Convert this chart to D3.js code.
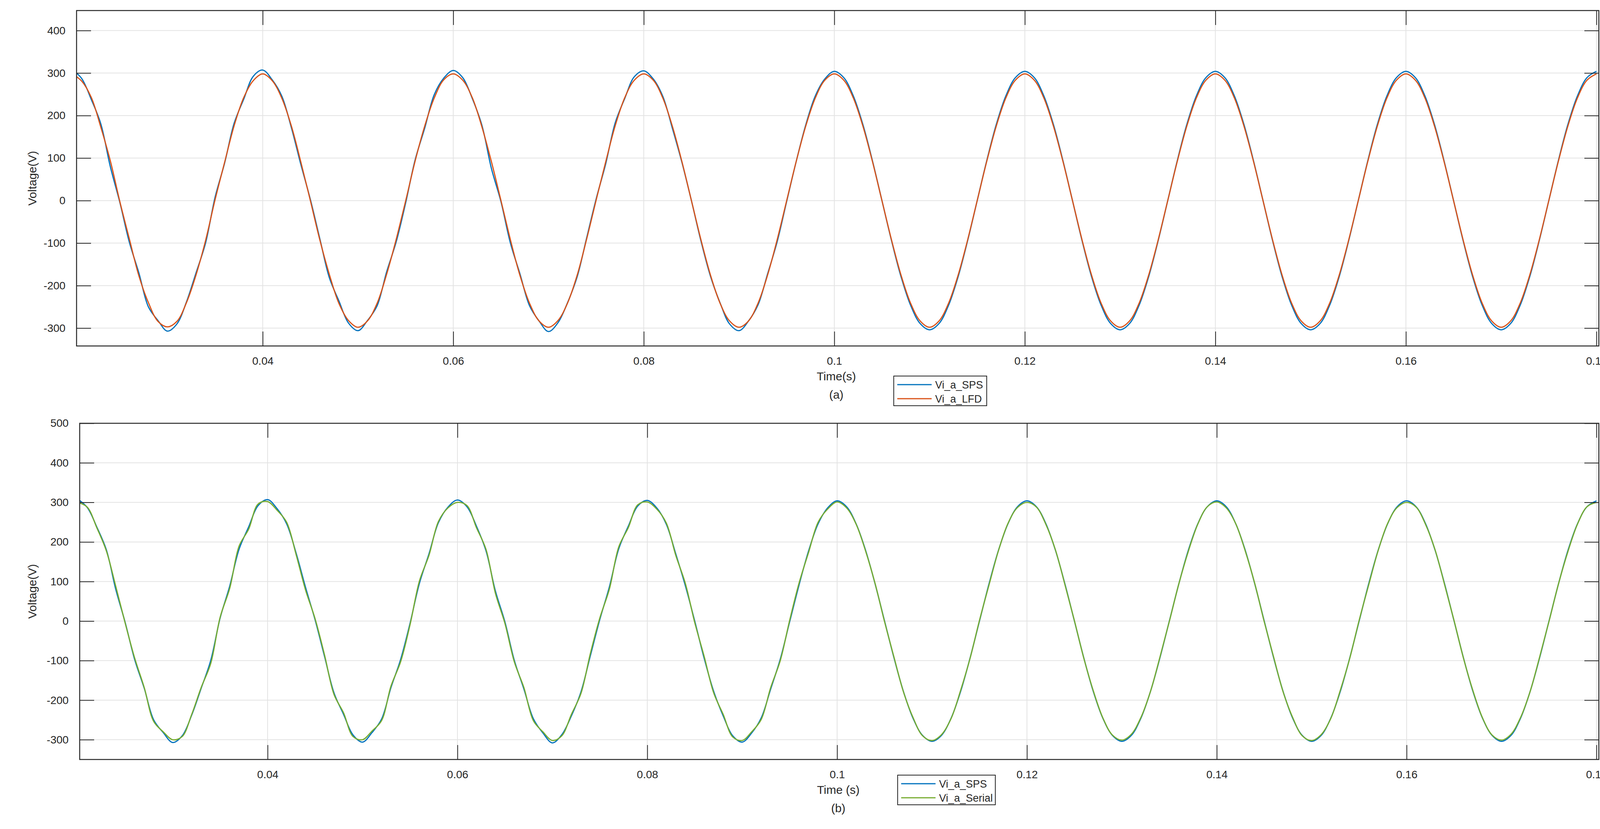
<!DOCTYPE html>
<html>
<head>
<meta charset="utf-8">
<script src="https://cdn.jsdelivr.net/npm/d3@7"></script>
<style>
  html, body { margin: 0; padding: 0; overflow: hidden; background: #fff; }
  svg { display: block; }
  text { font-family: "Liberation Sans", Arial, sans-serif; fill: #262626; }
</style>
</head>
<body>
<svg id="fig" width="4151" height="2123"></svg>
<script>
// sample times: 1 ms steps from 0.020 s to 0.180 s
var times = d3.range(161).map(i => +(0.02 + i * 0.001).toFixed(3));

// Vi_a_SPS (ripple up to 0.1 s, clean afterwards)
var viSPS = [
  308,287,238,181,80,-4,-98,-170,-250,-282,-307,-290,-238,-170,-100,8,88,182,238,292,
  307,284,246,172,85,3,-90,-182,-236,-288,-306,-282,-248,-168,-98,-6,96,170,249,288,
  306,289,240,178,76,-2,-100,-172,-247,-283,-308,-287,-240,-180,-88,4,86,183,240,291,
  305,286,245,170,90,0,-95,-178,-240,-290,-306,-283,-245,-172,-97,-2,92,178,246,286,
  304,289,246,179,94,0,-94,-179,-246,-289,-304,-289,-246,-179,-94,0,94,179,246,289,
  304,289,246,179,94,0,-94,-179,-246,-289,-304,-289,-246,-179,-94,0,94,179,246,289,
  304,289,246,179,94,0,-94,-179,-246,-289,-304,-289,-246,-179,-94,0,94,179,246,289,
  304,289,246,179,94,0,-94,-179,-246,-289,-304,-289,-246,-179,-94,0,94,179,246,289,
  304
];

// Vi_a_LFD
var viLFD = [
  298,281,243,173,94,-2,-90,-177,-240,-284,-297,-284,-240,-175,-94,2,90,176,242,282,
  298,282,241,176,91,0,-93,-174,-242,-282,-298,-283,-242,-174,-92,-1,93,175,241,284,
  298,283,242,174,92,1,-92,-176,-241,-283,-298,-282,-241,-176,-91,1,91,176,242,283,
  298,283,241,175,92,0,-92,-175,-241,-283,-298,-283,-241,-175,-92,0,92,175,241,283,
  298,283,241,175,92,0,-92,-175,-241,-283,-298,-283,-241,-175,-92,0,92,175,241,283,
  298,283,241,175,92,0,-92,-175,-241,-283,-298,-283,-241,-175,-92,0,92,175,241,283,
  298,283,241,175,92,0,-92,-175,-241,-283,-298,-283,-241,-175,-92,0,92,175,241,283,
  298,283,241,175,92,0,-92,-175,-241,-283,-298,-283,-241,-175,-92,0,92,175,241,283,
  298
];

// Vi_a_Serial
var viSerial = [
  300,288,236,178,88,-6,-94,-168,-254,-280,-300,-292,-236,-168,-108,10,82,190,232,296,
  302,280,250,168,78,6,-86,-186,-232,-292,-300,-278,-252,-164,-104,-10,102,166,252,286,
  300,292,236,182,70,-6,-104,-168,-252,-280,-302,-290,-236,-184,-82,8,80,188,236,294,
  301,283,248,166,96,-4,-90,-182,-236,-293,-302,-280,-249,-168,-101,2,97,174,250,283,
  301,286,245,177,95,-2,-92,-180,-244,-290,-302,-287,-247,-176,-95,2,91,178,247,287,
  300,288,244,180,92,1,-95,-177,-245,-288,-301,-286,-244,-179,-92,-1,94,176,245,289,
  301,286,246,177,95,-2,-92,-180,-244,-290,-302,-287,-247,-176,-95,2,91,178,247,287,
  300,288,244,180,92,1,-95,-177,-245,-288,-301,-286,-244,-179,-92,-1,94,176,245,289,
  300
];

var xTicks = [0.04, 0.06, 0.08, 0.1, 0.12, 0.14, 0.16, 0.18];
var yTicksA = [-300, -200, -100, 0, 100, 200, 300, 400];
var yTicksB = [-300, -200, -100, 0, 100, 200, 300, 400, 500];

var svg = d3.select("#fig");
var axisColor = "#262626";

function panel(opt) {
  var x = d3.scaleLinear().domain(opt.xDomain).range([opt.left, opt.right]);
  var y = d3.scaleLinear().domain(opt.yDomain).range([opt.bottom, opt.top]);
  var g = svg.append("g");
  var clipId = "clip" + opt.name;

  g.append("clipPath").attr("id", clipId).append("rect")
    .attr("x", opt.left).attr("y", opt.top)
    .attr("width", opt.right - opt.left).attr("height", opt.bottom - opt.top);

  // grid
  g.selectAll(".gx").data(xTicks).enter().append("line")
    .attr("x1", d => x(d)).attr("x2", d => x(d))
    .attr("y1", opt.top).attr("y2", opt.bottom)
    .attr("stroke", "#e3e3e3").attr("stroke-width", 2);
  g.selectAll(".gy").data(opt.yTicks).enter().append("line")
    .attr("x1", opt.left).attr("x2", opt.right)
    .attr("y1", d => y(d)).attr("y2", d => y(d))
    .attr("stroke", "#e3e3e3").attr("stroke-width", 2);

  // lines
  var line = d3.line().x((d, i) => x(times[i])).y(d => y(d)).curve(d3.curveCatmullRom);
  opt.series.forEach(s => {
    g.append("path").datum(s.values)
      .attr("clip-path", "url(#" + clipId + ")")
      .attr("d", line).attr("fill", "none")
      .attr("stroke", s.color).attr("stroke-width", 3).attr("stroke-linejoin", "round");
  });

  // axes: ticks inside on all four sides
  var tl = 37;
  g.append("g").attr("transform", "translate(0," + opt.bottom + ")")
    .call(d3.axisBottom(x).tickValues(xTicks).tickSizeInner(-tl).tickSizeOuter(0).tickFormat(d3.format("~g")))
    .call(a => a.selectAll("text").attr("dy", "1.6em").style("font-size", "28px").attr("fill", axisColor));
  g.append("g").attr("transform", "translate(0," + opt.top + ")")
    .call(d3.axisTop(x).tickValues(xTicks).tickSizeInner(-tl).tickSizeOuter(0).tickFormat(""));
  g.append("g").attr("transform", "translate(" + opt.left + ",0)")
    .call(d3.axisLeft(y).tickValues(opt.yTicks).tickSizeInner(-tl).tickSizeOuter(0).tickPadding(20)
      .tickFormat(d => String(d)))
    .call(a => a.selectAll("text").attr("dx", "-0.3em").style("font-size", "28px").attr("fill", axisColor));
  g.append("g").attr("transform", "translate(" + opt.right + ",0)")
    .call(d3.axisRight(y).tickValues(opt.yTicks).tickSizeInner(-tl).tickSizeOuter(0).tickFormat(""));
  g.selectAll(".domain").remove();
  g.selectAll(".tick line").attr("stroke", axisColor).attr("stroke-width", 2);

  g.append("rect").attr("x", opt.left).attr("y", opt.top)
    .attr("width", opt.right - opt.left).attr("height", opt.bottom - opt.top)
    .attr("fill", "none").attr("stroke", axisColor).attr("stroke-width", 2.5);

  // labels
  g.append("text").attr("x", opt.xlabelX).attr("y", opt.bottom + 88)
    .attr("text-anchor", "middle").style("font-size", "30px").text(opt.xlabel);
  g.append("text").attr("x", opt.xlabelX).attr("y", opt.bottom + 135)
    .attr("text-anchor", "middle").style("font-size", "30px").text(opt.caption);
  g.append("text")
    .attr("transform", "translate(93," + ((opt.top + opt.bottom) / 2) + ") rotate(-90)")
    .attr("text-anchor", "middle").style("font-size", "30px").text("Voltage(V)");

  // legend
  var lg = g.append("g").attr("transform", "translate(" + opt.legend[0] + "," + opt.legend[1] + ")");
  lg.append("rect").attr("width", opt.legendW).attr("height", 76)
    .attr("fill", "#fff").attr("stroke", axisColor).attr("stroke-width", 2);
  opt.series.forEach((s, i) => {
    var yy = 22 + i * 36;
    lg.append("line").attr("x1", 9).attr("x2", 97).attr("y1", yy).attr("y2", yy)
      .attr("stroke", s.color).attr("stroke-width", 3);
    lg.append("text").attr("x", 106).attr("y", yy + 10).style("font-size", "27px").text(s.name);
  });
}

panel({
  name: "a", left: 196, right: 4093, top: 27, bottom: 886,
  xDomain: [0.02046, 0.18025], yDomain: [-342, 447], yTicks: yTicksA,
  xlabel: "Time(s)", caption: "(a)", xlabelX: 2141,
  legend: [2288, 963], legendW: 238,
  series: [
    { name: "Vi_a_SPS", values: viSPS, color: "#0072BD" },
    { name: "Vi_a_LFD", values: viLFD, color: "#D95319" }
  ]
});

panel({
  name: "b", left: 204, right: 4093, top: 1084, bottom: 1945,
  xDomain: [0.0202, 0.18025], yDomain: [-350, 500], yTicks: yTicksB,
  xlabel: "Time (s)", caption: "(b)", xlabelX: 2146,
  legend: [2298, 1985], legendW: 250,
  series: [
    { name: "Vi_a_SPS", values: viSPS, color: "#0072BD" },
    { name: "Vi_a_Serial", values: viSerial, color: "#77AC30" }
  ]
});
</script>
</body>
</html>
